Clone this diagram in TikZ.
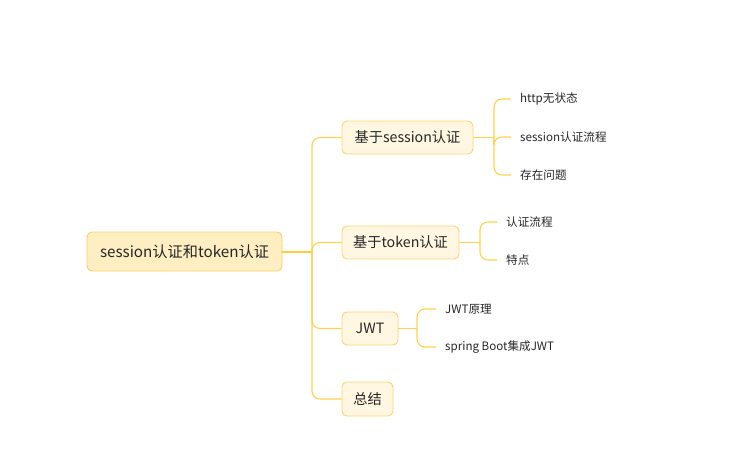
\documentclass[tikz,border=0pt]{standalone}
\usepackage{fontspec}
\setmainfont{Noto Sans CJK SC}
\definecolor{rootfill}{HTML}{FFEEC2}
\definecolor{rootdraw}{HTML}{F7CF68}
\definecolor{boxfill}{HTML}{FFF7E1}
\definecolor{boxdraw}{HTML}{FBD46E}
\definecolor{mainline}{HTML}{FFCC3A}
\definecolor{subline}{HTML}{FFD24C}
\definecolor{txt}{HTML}{262626}
\tikzset{
  rootbox/.style={draw=rootdraw, fill=rootfill, line width=0.9pt, rounded corners=5pt,
    minimum width=195pt, minimum height=39pt, inner sep=0pt, text=txt,
    font=\fontsize{15.2pt}{17pt}\selectfont},
  topicbox/.style={draw=boxdraw, fill=boxfill, line width=0.9pt, rounded corners=5pt,
    minimum height=33pt, inner sep=0pt, text=txt,
    font=\fontsize{14.2pt}{16pt}\selectfont},
  leaf/.style={anchor=west, inner xsep=9pt, inner ysep=0pt, text=txt,
    font=\fontsize{11.6pt}{13pt}\selectfont},
  link/.style={draw=subline, line width=1.1pt, rounded corners=8pt},
  mainlink/.style={draw=mainline, line width=2pt},
}
\begin{document}
\begin{tikzpicture}[x=1pt,y=-1pt]
\useasboundingbox (0,0) rectangle (739,466);
\node[rootbox] (root) at (184.5,251.5) {session认证和token认证};
\node[topicbox, minimum width=131pt] (s1) at (407.5,137.5) {基于session认证};
\node[topicbox, minimum width=117pt] (s2) at (400.5,242.5) {基于token认证};
\node[topicbox, minimum width=56pt] (s3) at (370,328.5) {JWT};
\node[topicbox, minimum width=51pt, minimum height=34pt] (s4) at (367.5,399) {总结};

\coordinate (hub) at (312,251.5);
\foreach \s in {s1,s2,s3,s4} \draw[link] (hub) |- (\s.west);
\draw[mainlink] (root.east) -- (hub);

% session leaves
\node[leaf] (l11) at (511,99) {http无状态};
\node[leaf] (l12) at (511,137) {session认证流程};
\node[leaf] (l13) at (511,175) {存在问题};
\coordinate (h1) at (494,137.5);
\draw[link] (s1.east) -- (h1);
\foreach \l in {l11,l12,l13} \draw[link] (h1) |- (\l.west);

% token leaves
\node[leaf] (l21) at (497,222) {认证流程};
\node[leaf] (l22) at (497,260) {特点};
\coordinate (h2) at (480,242.5);
\draw[link] (s2.east) -- (h2);
\foreach \l in {l21,l22} \draw[link] (h2) |- (\l.west);

% JWT leaves
\node[leaf] (l31) at (436,309) {JWT原理};
\node[leaf] (l32) at (436,347) {spring Boot集成JWT};
\coordinate (h3) at (417,328.5);
\draw[link] (s3.east) -- (h3);
\foreach \l in {l31,l32} \draw[link] (h3) |- (\l.west);
\end{tikzpicture}
\end{document}
